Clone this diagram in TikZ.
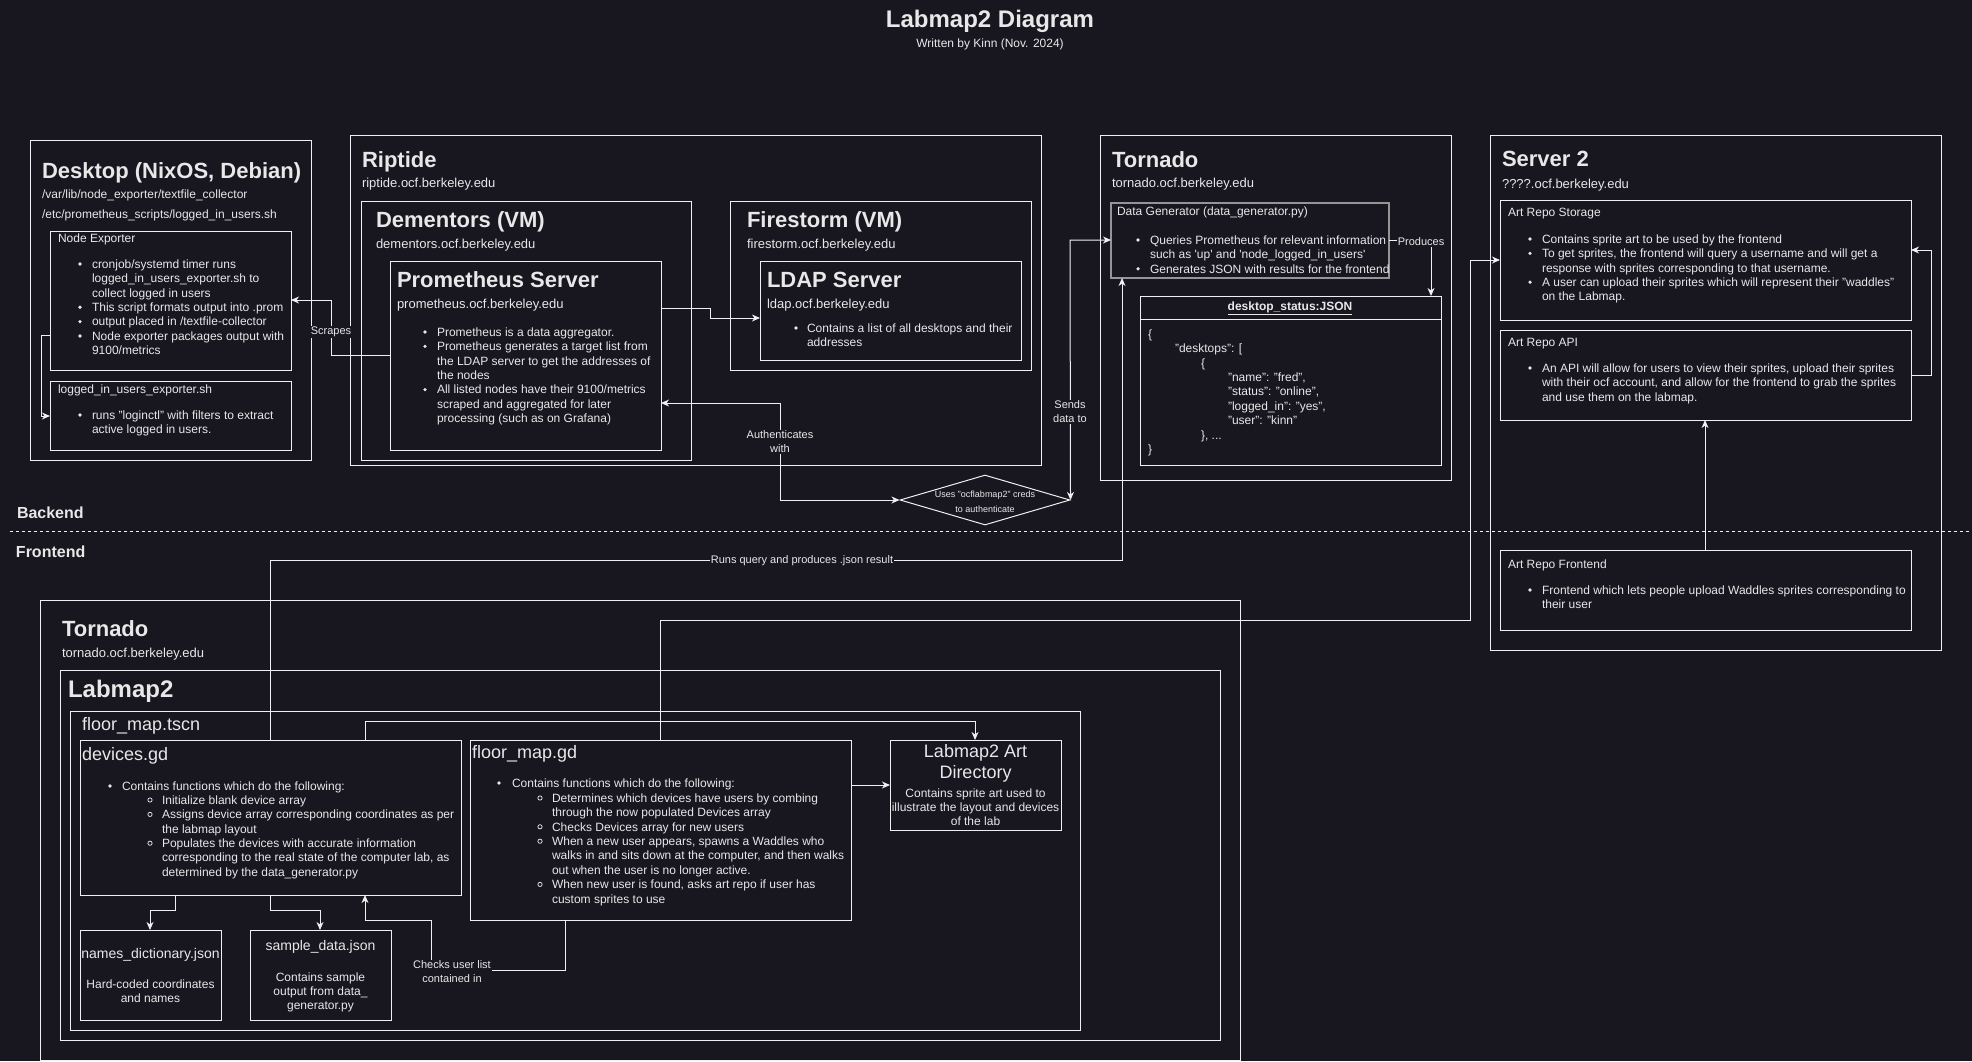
\documentclass[tikz,border=0pt]{standalone}
\usepackage{fontspec}
\setmainfont{Liberation Sans}
\usetikzlibrary{arrows.meta,shapes.geometric}
\definecolor{bg}{HTML}{18161F}
\definecolor{fg}{HTML}{F0F0F0}
\definecolor{tc}{HTML}{E8E8E8}
\definecolor{gr}{HTML}{959595}
\newcounter{tn}
\newcommand{\mytext}[4][]{\stepcounter{tn}\node[tx,#1] (t\arabic{tn}) at (#2,#3) {#4};}
\newcommand{\mybul}[2]{\stepcounter{tn}\node[bul] (b\arabic{tn}) at (#1,#2) {};}
\newcommand{\mycirc}[2]{\stepcounter{tn}\node[ring] (c\arabic{tn}) at (#1,#2) {};}
\newcommand{\mybox}[6][]{\node[box,minimum width={(#5-#3)*0.75pt},minimum height={(#6-#4)*0.75pt},#1] (#2) at ({(#3+#5)/2},{(#4+#6)/2}) {};}
\begin{document}
\begin{tikzpicture}[x=0.75pt,y=-0.75pt,
  box/.style={draw=fg,line width=0.75pt,inner sep=0pt,outer sep=0pt,rectangle},
  f9/.style={font=\fontsize{6.75pt}{8pt}\selectfont,text height=4.86pt,text depth=1.42pt},
  f11/.style={font=\fontsize{8.25pt}{10pt}\selectfont,text height=5.94pt,text depth=1.73pt},
  f12/.style={font=\fontsize{9pt}{10.8pt}\selectfont,text height=6.48pt,text depth=1.89pt},
  f12b/.style={font=\fontsize{9pt}{10.8pt}\selectfont\bfseries,text height=6.48pt,text depth=1.89pt},
  f13/.style={font=\fontsize{9.75pt}{11.7pt}\selectfont,text height=7.02pt,text depth=2.05pt},
  f14/.style={font=\fontsize{10.5pt}{12.6pt}\selectfont,text height=7.56pt,text depth=2.2pt},
  f16b/.style={font=\fontsize{12pt}{14.4pt}\selectfont\bfseries,text height=8.64pt,text depth=2.52pt},
  f18/.style={font=\fontsize{13.5pt}{16.2pt}\selectfont,text height=9.72pt,text depth=2.84pt},
  f22b/.style={font=\fontsize{16.5pt}{19.8pt}\selectfont\bfseries,text height=11.88pt,text depth=3.47pt},
  f24b/.style={font=\fontsize{18pt}{21.6pt}\selectfont\bfseries,text height=12.96pt,text depth=3.78pt},
  tx/.style={inner sep=0pt,outer sep=0pt,anchor=west,text=tc,f12,yshift=-0.9pt},
  c/.style={anchor=center},
  bul/.style={circle,fill=tc,inner sep=0pt,outer sep=0pt,minimum size=2.7pt},
  ring/.style={circle,draw=tc,line width=0.55pt,inner sep=0pt,outer sep=0pt,minimum size=3.2pt},
  conn/.style={draw=fg,line width=0.75pt,-{Stealth[length=6pt,width=5.2pt,inset=1.8pt]}},
  conn2/.style={draw=fg,line width=0.75pt,{Stealth[length=6pt,width=5.2pt,inset=1.8pt]}-{Stealth[length=6pt,width=5.2pt,inset=1.8pt]}},
  lab/.style={fill=bg,inner sep=0.6pt,text=tc,font=\fontsize{8.25pt}{10.5pt}\selectfont,align=center}
]
\useasboundingbox (0,0) rectangle (1972,1061);
\fill[bg] (0,0) rectangle (1972,1061);

% ---------- title ----------
\mytext[f24b,c]{990}{20}{Labmap2 Diagram}
\mytext[c]{990}{43}{Written by Kinn (Nov. 2024)}

% ---------- boxes ----------
\mybox{desktop}{30}{140}{311}{460}
\mybox{ne}{50}{231}{291}{370}
\mybox{lu}{50}{381}{291}{450}
\mybox{riptide}{350}{135}{1041}{465}
\mybox{dementors}{361}{201}{691}{460}
\mybox{prom}{390}{261}{661}{450}
\mybox{firestorm}{730}{201}{1031}{370}
\mybox{ldap}{760}{261}{1021}{360}
\mybox{tornado}{1100}{135}{1451}{480}
\mybox[draw=gr,line width=1.1pt]{datagen}{1111}{203}{1389}{278}
\mybox{json}{1140}{296}{1441}{465}
\draw[fg,line width=0.75pt] (json.west |- 0,319) -- (json.east |- 0,319);
\mybox{server2}{1490}{135}{1941}{650}
\mybox{storage}{1500}{200}{1911}{320}
\mybox{api}{1500}{330}{1911}{420}
\mybox{frontend}{1500}{550}{1911}{630}
\mybox{tornadob}{40}{600}{1240}{1060}
\mybox{labmap}{60}{670}{1220}{1040}
\mybox{tscn}{70}{711}{1080}{1030}
\mybox{devices}{80}{740}{461}{895}
\mybox{names}{80}{930}{221}{1020}
\mybox{sample}{250}{930}{391}{1020}
\mybox{fmgd}{470}{740}{851}{920}
\mybox{artdir}{890}{740}{1061}{830}
\node[diamond,draw=fg,line width=0.75pt,minimum width=127.5pt,minimum height=37.5pt,inner sep=0pt,aspect=3.4] (diam) at (985,500) {};

% divider
\coordinate (dvl) at (10,531);
\coordinate (dvr) at (1972,531);
\draw[fg,line width=0.75pt,dash pattern=on 2.25pt off 2.25pt] (dvl) -- (dvr);
\mytext[f16b]{17}{513}{Backend}
\mytext[f16b]{16}{552}{Frontend}

% ---------- connectors ----------
\draw[conn] (prom.west |- 0,355) -- (331,355) -- (331,300) -- (ne.east |- 0,300);
\draw[conn] (ne.west |- 0,335) -- (41,335) -- (41,416) -- (lu.west |- 0,416);
\draw[conn] (prom.east |- 0,308) -- (710,308) -- (710,318) -- (ldap.west |- 0,318);
\draw[conn2] (prom.east |- 0,403) -- (780,403) -- (780,500) -- (diam.west);
\draw[conn2] (diam.east) -- (1070,240) -- (datagen.west |- 0,240);
\draw[conn] (datagen.east |- 0,240) -- (1431,240) -- (json.north -| 1431,0);
\draw[conn] (devices.north -| 270,0) -- (270,560) -- (1122,560) -- (datagen.south -| 1122,0);
\draw[conn] (fmgd.north -| 660,0) -- (660,620) -- (1470,620) -- (1470,260) -- (storage.west |- 0,260);
\draw[conn] (api.east |- 0,375) -- (1931,375) -- (1931,250) -- (storage.east |- 0,250);
\draw[conn] (frontend.north -| 1705,0) -- (api.south -| 1705,0);
\draw[conn] (devices.south -| 175,0) -- (175,910) -- (150,910) -- (names.north -| 150,0);
\draw[conn] (devices.south -| 270,0) -- (270,910) -- (320,910) -- (sample.north -| 320,0);
\draw[conn] (fmgd.south -| 565,0) -- (565,970) -- (431,970) -- (431,920) -- (365,920) -- (devices.south -| 365,0);
\draw[conn] (devices.north -| 365,0) -- (365,721) -- (975,721) -- (artdir.north -| 975,0);
\draw[conn] (fmgd.east |- 0,785) -- (artdir.west |- 0,785);

% connector labels
\node[lab] (lscr) at (331,332) {Scrapes};
\node[lab] (lauth) at (780,442) {Authenticates\\with};
\node[lab] (lsend) at (1070,412) {Sends\\data to};
\node[lab] (lprod) at (1421,242) {Produces};
\node[lab] (lruns) at (802,561) {Runs query and produces .json result};
\node[lab] (lchk) at (452,972) {Checks user list\\contained in};

% ---------- Desktop ----------
\mytext[f22b]{42}{172}{Desktop (NixOS, Debian)}
\mytext{42}{194}{/var/lib/node\_exporter/textfile\_collector}
\mytext{42}{214}{/etc/prometheus\_scripts/logged\_in\_users.sh}
\mytext{58}{238}{Node Exporter}
\mybul{80}{264}\mytext{92}{264}{cronjob/systemd timer runs}
\mytext{92}{278.4}{logged\_in\_users\_exporter.sh to}
\mytext{92}{292.8}{collect logged in users}
\mybul{80}{307.2}\mytext{92}{307.2}{This script formats output into .prom}
\mybul{80}{321.6}\mytext{92}{321.6}{output placed in /textfile-collector}
\mybul{80}{336}\mytext{92}{336}{Node exporter packages output with}
\mytext{92}{350.4}{9100/metrics}
\mytext{58}{389}{logged\_in\_users\_exporter.sh}
\mybul{80}{415}\mytext{92}{415}{runs "loginctl" with filters to extract}
\mytext{92}{429.4}{active logged in users.}

% ---------- Riptide ----------
\mytext[f22b]{362}{161}{Riptide}
\mytext[f13]{362}{183}{riptide.ocf.berkeley.edu}
\mytext[f22b]{376}{221}{Dementors (VM)}
\mytext[f13]{376}{244}{dementors.ocf.berkeley.edu}
\mytext[f22b]{397}{281}{Prometheus Server}
\mytext[f13]{397}{304}{prometheus.ocf.berkeley.edu}
\mybul{425}{332}\mytext{437}{332}{Prometheus is a data aggregator.}
\mybul{425}{346.4}\mytext{437}{346.4}{Prometheus generates a target list from}
\mytext{437}{360.8}{the LDAP server to get the addresses of}
\mytext{437}{375.2}{the nodes}
\mybul{425}{389.6}\mytext{437}{389.6}{All listed nodes have their 9100/metrics}
\mytext{437}{404}{scraped and aggregated for later}
\mytext{437}{418.4}{processing (such as on Grafana)}
\mytext[f22b]{747}{221}{Firestorm (VM)}
\mytext[f13]{747}{244}{firestorm.ocf.berkeley.edu}
\mytext[f22b]{767}{281}{LDAP Server}
\mytext[f13]{767}{304}{ldap.ocf.berkeley.edu}
\mybul{796}{328}\mytext{807}{328}{Contains a list of all desktops and their}
\mytext{807}{342.4}{addresses}

% diamond text
\mytext[f9,c]{985}{494}{Uses "ocflabmap2" creds}
\mytext[f9,c]{985}{509}{to authenticate}

% ---------- Tornado (backend) ----------
\mytext[f22b]{1112}{161}{Tornado}
\mytext[f13]{1112}{183}{tornado.ocf.berkeley.edu}
\mytext{1117}{211}{Data Generator (data\_generator.py)}
\mybul{1138}{240}\mytext{1150}{240}{Queries Prometheus for relevant information}
\mytext{1150}{254.4}{such as \textquotesingle up\textquotesingle\ and \textquotesingle node\_logged\_in\_users\textquotesingle}
\mybul{1138}{268.8}\mytext{1150}{268.8}{Generates JSON with results for the frontend}
\mytext[f12b,c]{1290}{306}{\underline{desktop\_status:JSON}}
\mytext{1148}{334}{\{}
\mytext{1175}{348.4}{"desktops": [}
\mytext{1201}{362.8}{\{}
\mytext{1228}{377.2}{"name": "fred",}
\mytext{1228}{391.6}{"status": "online",}
\mytext{1228}{406}{"logged\_in": "yes",}
\mytext{1228}{420.4}{"user": "kinn"}
\mytext{1201}{434.8}{\}, ...}
\mytext{1148}{449.2}{\}}

% ---------- Server 2 ----------
\mytext[f22b]{1502}{160}{Server 2}
\mytext[f13]{1502}{184}{????.ocf.berkeley.edu}
\mytext{1508}{212}{Art Repo Storage}
\mybul{1530}{239}\mytext{1542}{239}{Contains sprite art to be used by the frontend}
\mybul{1530}{253.4}\mytext{1542}{253.4}{To get sprites, the frontend will query a username and will get a}
\mytext{1542}{267.8}{response with sprites corresponding to that username.}
\mybul{1530}{282.2}\mytext{1542}{282.2}{A user can upload their sprites which will represent their "waddles"}
\mytext{1542}{296.6}{on the Labmap.}
\mytext{1508}{342}{Art Repo API}
\mybul{1530}{368}\mytext{1542}{368}{An API will allow for users to view their sprites, upload their sprites}
\mytext{1542}{382.4}{with their ocf account, and allow for the frontend to grab the sprites}
\mytext{1542}{396.8}{and use them on the labmap.}
\mytext{1508}{564}{Art Repo Frontend}
\mybul{1530}{590}\mytext{1542}{590}{Frontend which lets people upload Waddles sprites corresponding to}
\mytext{1542}{604.4}{their user}

% ---------- Tornado (frontend) ----------
\mytext[f22b]{62}{630}{Tornado}
\mytext[f13]{62}{653}{tornado.ocf.berkeley.edu}
\mytext[f24b]{68}{690}{Labmap2}
\mytext[f18]{82}{725}{floor\_map.tscn}
\mytext[f18]{82}{755}{devices.gd}
\mybul{110}{786}\mytext{122}{786}{Contains functions which do the following:}
\mycirc{150}{800}\mytext{162}{800}{Initialize blank device array}
\mycirc{150}{814.4}\mytext{162}{814.4}{Assigns device array corresponding coordinates as per}
\mytext{162}{828.8}{the labmap layout}
\mycirc{150}{843.2}\mytext{162}{843.2}{Populates the devices with accurate information}
\mytext{162}{857.6}{corresponding to the real state of the computer lab, as}
\mytext{162}{872}{determined by the data\_generator.py}
\mytext[f14,c]{150.5}{954}{names\_dictionary.json}
\mytext[c]{150.5}{984}{Hard-coded coordinates}
\mytext[c]{150.5}{998}{and names}
\mytext[f14,c]{320.5}{946}{sample\_data.json}
\mytext[c]{320.5}{977}{Contains sample}
\mytext[c]{320.5}{991}{output from data\_}
\mytext[c]{320.5}{1005}{generator.py}
\mytext[f18]{472}{753}{floor\_map.gd}
\mybul{499}{783}\mytext{512}{783}{Contains functions which do the following:}
\mycirc{540}{798}\mytext{552}{798}{Determines which devices have users by combing}
\mytext{552}{812.4}{through the now populated Devices array}
\mycirc{540}{826.8}\mytext{552}{826.8}{Checks Devices array for new users}
\mycirc{540}{841.2}\mytext{552}{841.2}{When a new user appears, spawns a Waddles who}
\mytext{552}{855.6}{walks in and sits down at the computer, and then walks}
\mytext{552}{870}{out when the user is no longer active.}
\mycirc{540}{884.4}\mytext{552}{884.4}{When new user is found, asks art repo if user has}
\mytext{552}{898.8}{custom sprites to use}
\mytext[f18,c]{975.5}{752}{Labmap2 Art}
\mytext[f18,c]{975.5}{773}{Directory}
\mytext[c]{975.5}{793}{Contains sprite art used to}
\mytext[c]{975.5}{807}{illustrate the layout and devices}
\mytext[c]{975.5}{821}{of the lab}
\end{tikzpicture}
\end{document}
